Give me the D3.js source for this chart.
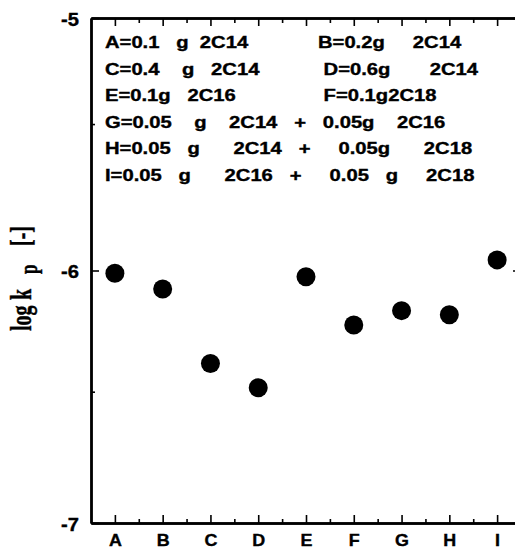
<!DOCTYPE html>
<html>
<head>
<meta charset="utf-8">
<script src="https://cdn.jsdelivr.net/npm/d3@7"></script>
<style>
  body { margin: 0; background: #fff; }
  text { white-space: pre; }
</style>
</head>
<body>
<div id="container"></div>
<script>
/* DATA */
const categories = ["A", "B", "C", "D", "E", "F", "G", "H", "I"];
const logKp = [-6.011, -6.073, -6.368, -6.464, -6.025, -6.216, -6.159, -6.175, -5.958];
const yMajorTicks = [-7, -6, -5];
const yMinorTicks = [-6.48, -5.42];
const legendLeft = [
  "A=0.1   g  2C14",
  "C=0.4    g   2C14",
  "E=0.1g   2C16",
  "G=0.05    g    2C14   +   0.05g    2C16",
  "H=0.05   g      2C14   +     0.05g      2C18",
  "I=0.05   g      2C16   +     0.05   g     2C18"
];
const legendRight = [
  "B=0.2g     2C14",
  " D=0.6g       2C14",
  " F=0.1g2C18"
];

/* CONSTANTS */
const width = 515,
  height = 552,
  plot = { left: 91, right: 521, top: 18, bottom: 523 };

/* SCALES */
const xScale = d3.scaleLinear()
  .domain([0.5, categories.length + 0.5])
  .range([plot.left, plot.right]);

const yScale = d3.scaleLinear()
  .domain([-7, -5])
  .range([plot.bottom, plot.top]);

const majorX = d3.range(1, categories.length + 1);
const minorX = d3.range(1.5, categories.length, 1);

/* SVG */
const svg = d3.select("#container")
  .append("svg")
  .attr("width", width)
  .attr("height", height)
  .style("font-family", "'Liberation Sans', Arial, sans-serif")
  .style("font-weight", "bold");

const styleAxis = g => {
  g.select(".domain").attr("stroke", "#000").attr("stroke-width", 2.4);
  g.selectAll(".tick line").attr("stroke", "#000").attr("stroke-width", 1.6);
};

const styleText = (sel, size) => sel
  .attr("font-size", size)
  .attr("font-family", "'Liberation Sans', Arial, sans-serif")
  .attr("font-weight", "bold")
  .attr("fill", "#000")
  .attr("stroke", "#000")
  .attr("stroke-width", 0.35);

// bottom axis
svg.append("g")
  .attr("transform", `translate(0, ${plot.bottom})`)
  .call(d3.axisBottom(xScale).tickValues(majorX).tickSize(-8).tickSizeOuter(0)
    .tickPadding(12).tickFormat(d => categories[d - 1]))
  .call(styleAxis)
  .call(g => g.selectAll(".tick text")
    .call(styleText, 16)
    .attr("transform", "scale(1.12,1)"));

svg.append("g")
  .attr("transform", `translate(0, ${plot.bottom})`)
  .call(d3.axisBottom(xScale).tickValues(minorX).tickSize(-4).tickSizeOuter(0).tickFormat(""))
  .call(styleAxis);

// top axis
svg.append("g")
  .attr("transform", `translate(0, ${plot.top})`)
  .call(d3.axisTop(xScale).tickValues(majorX).tickSize(-8).tickSizeOuter(0).tickFormat(""))
  .call(styleAxis);

svg.append("g")
  .attr("transform", `translate(0, ${plot.top})`)
  .call(d3.axisTop(xScale).tickValues(minorX).tickSize(-5).tickSizeOuter(0).tickFormat(""))
  .call(styleAxis);

// left axis
svg.append("g")
  .attr("transform", `translate(${plot.left}, 0)`)
  .call(d3.axisLeft(yScale).tickValues(yMajorTicks).tickSize(-8).tickSizeOuter(0)
    .tickFormat(d => String(d)))
  .call(styleAxis)
  .call(g => g.selectAll(".tick text")
    .attr("x", 0).attr("dy", "0.36em")
    .call(styleText, 18)
    .attr("transform", "translate(-12,1) scale(1.12,1)"));

svg.append("g")
  .attr("transform", `translate(${plot.left}, 0)`)
  .call(d3.axisLeft(yScale).tickValues(yMinorTicks).tickSize(-4).tickSizeOuter(0).tickFormat(""))
  .call(styleAxis);

// right axis (mostly outside the frame)
svg.append("g")
  .attr("transform", `translate(${plot.right}, 0)`)
  .call(d3.axisRight(yScale).tickValues(yMajorTicks).tickSize(-8).tickSizeOuter(0).tickFormat(""))
  .call(styleAxis);

/* Y LABEL */
const yLabel = svg.append("text")
  .attr("transform", "translate(31, 331) scale(1.45,1) rotate(-90)")
  .attr("font-family", "'Liberation Serif', 'Times New Roman', serif")
  .attr("font-weight", "bold")
  .attr("font-size", 20)
  .attr("fill", "#000")
  .attr("stroke", "#000")
  .attr("stroke-width", 0.3);
yLabel.append("tspan").attr("x", 0).text("log");
yLabel.append("tspan").attr("x", 31).text("k");
yLabel.append("tspan").attr("x", 57).attr("dy", 4).attr("font-size", 17).text("p");
yLabel.append("tspan").attr("x", 85).attr("dy", -4).text("[-]");

/* LEGEND */
const legendRow = 26.5, legendTop = 48;
svg.selectAll(".legend-left")
  .data(legendLeft)
  .join("text")
  .attr("class", "legend-left")
  .attr("transform", (d, i) => `translate(105, ${legendTop + i * legendRow}) scale(1.28,1)`)
  .call(styleText, 15.8)
  .text(d => d);

svg.selectAll(".legend-right")
  .data(legendRight)
  .join("text")
  .attr("class", "legend-right")
  .attr("transform", (d, i) => `translate(318, ${legendTop + i * legendRow}) scale(1.28,1)`)
  .call(styleText, 15.8)
  .text(d => d);

/* POINTS */
svg.selectAll(".dot")
  .data(logKp)
  .join("circle")
  .attr("class", "dot")
  .attr("cx", (d, i) => xScale(i + 1))
  .attr("cy", d => yScale(d))
  .attr("r", 9.5)
  .attr("fill", "#000");
</script>
</body>
</html>
